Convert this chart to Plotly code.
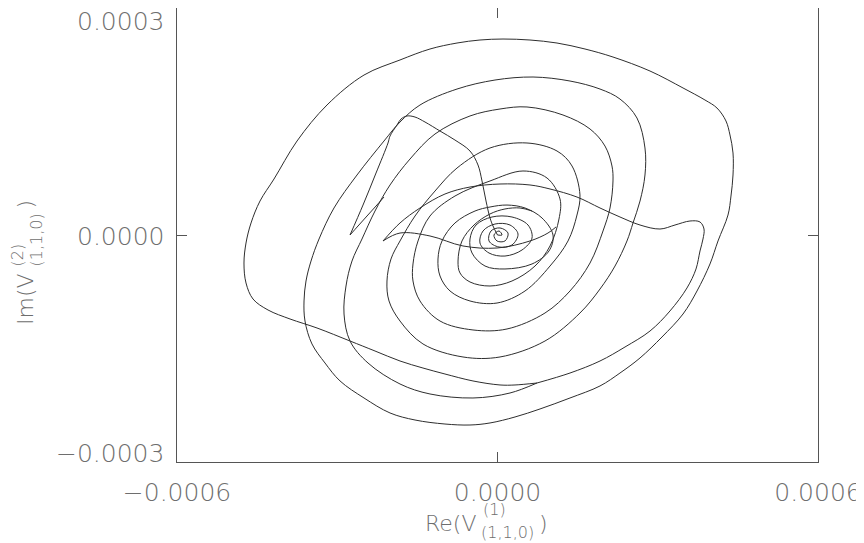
import plotly.graph_objects as go

UNIT = 1e-4  # all curve values below are in units of 1e-4

# Arm 1: wavy lower line -> outer loop -> rings 2, 4, 6 ... -> origin
arm1_x = [0.739, 0.328, 0.047, -0.459, -0.983, -1.395, -1.825, -2.293, -2.761, -3.379, -3.884, -4.296, -4.577,
          -4.708, -4.746, -4.708, -4.614, -4.446, -4.184, -3.753, -3.192, -2.499, -1.825, -1.264, -0.758, -0.328,
          0.103, 0.608, 1.114, 1.638, 2.162, 2.855, 3.473, 3.884, 4.109, 4.277, 4.352, 4.409, 4.409, 4.371, 4.315,
          4.128, 3.978, 3.735, 3.473, 3.079, 2.668, 2.293, 1.919, 1.357, 0.796, 0.328, -0.140, -0.515, -0.983,
          -1.544, -2.012, -2.499, -2.948, -3.229, -3.473, -3.604, -3.622, -3.585, -3.491, -3.341, -3.061, -2.630,
          -2.125, -1.825, -1.451, -0.758, -0.047, 0.665, 1.357, 1.919, 2.293, 2.611, 2.761, 2.761, 2.668, 2.537,
          2.424, 2.200, 1.919, 1.544, 0.889, 0.047, -0.646, -1.395, -1.825, -2.031, -2.069, -1.994, -1.825,
          -1.544, -1.170, -0.758, -0.140, 0.552, 1.114, 1.395, 1.544, 1.488, 1.320, 0.983, 0.515, -0.009, -0.515,
          -0.889, -1.076, -1.114, -1.039, -0.796, -0.421, -0.140, 0.178, 0.515, 0.833, 1.039, 0.964, 0.646, 0.140,
          -0.234, -0.477, -0.515, -0.402, -0.103, 0.271, 0.571, 0.646, 0.459, 0.140, -0.159, -0.328, -0.271,
          -0.047, 0.234, 0.384, 0.271, 0.028, -0.159, -0.122, 0.047, 0.197, 0.140, -0.009, -0.066, 0.028, 0.084,
          0.0]
arm1_y = [-1.956, -1.982, -1.982, -1.929, -1.837, -1.758, -1.665, -1.533, -1.401, -1.229, -1.110, -0.991, -0.846,
          -0.634, -0.370, -0.106, 0.159, 0.449, 0.740, 1.242, 1.718, 2.114, 2.313, 2.458, 2.537, 2.577,
          2.590, 2.577, 2.537, 2.458, 2.352, 2.167, 1.943, 1.784, 1.678, 1.507, 1.322, 1.084, 0.793, 0.515, 0.264,
          -0.079, -0.383, -0.740, -1.044, -1.348, -1.625, -1.824, -1.995, -2.154, -2.299, -2.405, -2.484, -2.511, -2.498,
          -2.445, -2.352, -2.154, -1.929, -1.692, -1.440, -1.137, -0.872, -0.608, -0.344, -0.053, 0.357, 0.793,
          1.242, 1.493, 1.718, 1.929, 2.048, 2.088, 2.035, 1.929, 1.797, 1.546, 1.150, 0.793, 0.449, 0.159,
          -0.079, -0.410, -0.714, -1.031, -1.401, -1.612, -1.612, -1.440, -1.137, -0.872, -0.608, -0.317, -0.079,
          0.251, 0.581, 0.885, 1.150, 1.216, 1.110, 0.912, 0.529, 0.264, -0.079, -0.410, -0.740, -0.899, -0.872,
          -0.740, -0.542, -0.317, -0.079, 0.159, 0.317, 0.370, 0.396, 0.357, 0.225, 0.0, -0.211, -0.383, -0.449,
          -0.410, -0.238, -0.053, 0.132, 0.238, 0.238, 0.132, -0.040, -0.198, -0.278, -0.238, -0.106, 0.053,
          0.145, 0.132, 0.013, -0.132, -0.159, -0.079, 0.053, 0.093, 0.026, -0.079, -0.079, 0.0, 0.053, 0.0,
          0.0]

# Arm 3: lower arc from the junction -> left side -> rings 3, 5 -> merges into ring 6
arm3_x = [0.739, 0.234, -0.459, -1.264, -1.825, -2.424, -2.761, -2.873, -2.836, -2.724, -2.537, -2.293, -2.012,
          -1.638, -1.170, -0.515, 0.047, 0.552, 1.226, 1.732, 2.012, 2.143, 2.162, 2.106, 1.975, 1.732, 1.357,
          0.889, 0.178, -0.459, -1.076, -1.451, -1.582, -1.582, -1.488, -1.264, -0.796, -0.140, 0.477, 0.927,
          1.170, 1.151, 0.983, 0.702, 0.271, -0.140, -0.515, -0.702, -0.739,
          -0.665, -0.440, -0.140, 0.140, 0.421, 0.646]
arm3_y = [-1.956, -2.088, -2.154, -2.101, -1.969, -1.692, -1.401, -1.044, -0.674, -0.344, -0.053, 0.317, 0.661,
          1.004, 1.335, 1.573, 1.665, 1.692, 1.586, 1.401, 1.176, 0.912, 0.714, 0.357, 0.053, -0.370, -0.740,
          -1.031, -1.242, -1.255, -1.137, -0.872, -0.608, -0.383, -0.079, 0.251, 0.515, 0.714, 0.846, 0.753,
          0.476, 0.211, -0.145, -0.410, -0.608, -0.674, -0.621, -0.502, -0.344,
          -0.079, 0.132, 0.278, 0.344, 0.357, 0.317]

# Upper lens: junction -> right bump -> upper line -> left cusp
lens_up_x = [0.739, 1.357, 1.919, 2.387, 2.855, 3.229, 3.547, 3.716, 3.791, 3.847, 3.866, 3.791, 3.603, 3.323,
             3.042, 2.668, 2.293, 1.919, 1.488, 0.983, 0.608, 0.047, -0.515, -0.983, -1.451, -1.825, -2.143]
lens_up_y = [-1.956, -1.824, -1.665, -1.480, -1.269, -1.004, -0.700, -0.449, -0.211, -0.053, 0.079, 0.172, 0.185,
             0.132, 0.079, 0.132, 0.238, 0.357, 0.502, 0.608, 0.661, 0.674, 0.634, 0.542, 0.357, 0.159, -0.079]
# Lower lens: left cusp -> lower line -> joins inner ring
lens_lo_x = [-2.143, -1.825, -1.264, -0.646, -0.009, 0.608, 0.945, 1.095]
lens_lo_y = [-0.079, 0.026, -0.013, -0.145, -0.172, -0.079, 0.026, 0.106]

# Hook: origin -> up-left hook -> down to the V tip
hook_x = [0.0, -0.084, -0.140, -0.215, -0.290, -0.365, -0.515, -0.796, -1.076, -1.357, -1.544, -1.694, -1.806,
          -1.881, -2.012, -2.050, -2.274, -2.518, -2.761]
hook_y = [0.0, 0.119, 0.225, 0.449, 0.714, 0.925, 1.110, 1.255, 1.374, 1.493, 1.559, 1.573, 1.533,
          1.454, 1.308, 1.216, 0.819, 0.396, 0.0]
# Tail: V tip -> short stroke up-right
tail_x = [-2.761, -2.611, -2.443, -2.274, -2.125]
tail_y = [0.0, 0.119, 0.251, 0.383, 0.502]

x_ticks = [-6e-4, 0.0, 6e-4]
x_ticktext = ["\u22120.0006", "0.0000", "0.0006"]
y_ticks = [-3e-4, 0.0, 3e-4]
y_ticktext = ["\u22120.0003", "0.0000", "0.0003"]

fig = go.Figure()
for sx, sy in [(arm1_x, arm1_y), (arm3_x, arm3_y), (lens_up_x, lens_up_y), (lens_lo_x, lens_lo_y),
               (hook_x, hook_y), (tail_x, tail_y)]:
    fig.add_trace(go.Scatter(x=[v * UNIT for v in sx], y=[v * UNIT for v in sy], mode="lines",
                             line=dict(color="#2e2e2e", width=1.0, shape="spline", smoothing=1.0),
                             showlegend=False, hoverinfo="skip"))

lab_color = "#6e6e6e"
tickfont = dict(family="DejaVu Sans", size=25, color=lab_color, weight=200)
axis_common = dict(showgrid=False, zeroline=False, showline=True, mirror="ticks", linecolor="#555555",
                   linewidth=1.3, ticks="inside", ticklen=10, tickwidth=1.2, tickcolor="#555555",
                   tickfont=tickfont, automargin=False, ticklabeloverflow="allow")
fig.update_layout(
    width=864, height=543, margin=dict(l=169, r=54, t=0, b=89, autoexpand=False),
    paper_bgcolor="white", plot_bgcolor="white",
    xaxis=dict(range=[-6e-4, 6e-4], tickvals=x_ticks, ticktext=x_ticktext, ticklabelstandoff=8, **axis_common),
    yaxis=dict(range=[-3e-4, 3e-4], tickvals=y_ticks, showticklabels=False, **axis_common),
)

ann = []
# y tick labels (inset at the ends as in the reference)
for txt, py in zip(y_ticktext, [452, 235, 20]):
    ann.append(dict(text=txt, x=(166 - 177) / 641, y=(461 - py) / 454, xanchor="right", yanchor="middle",
                    font=tickfont))

tf = dict(family="DejaVu Sans", size=22, color=lab_color, weight=200)
sf = dict(family="DejaVu Sans", size=16, color=lab_color, weight=200)
# x title: Re(V^(1)_(1,1,0))
ann.append(dict(text="Re(V", x=(478 - 177) / 641, y=(461 - 522) / 454, xanchor="right", yanchor="middle", font=tf))
ann.append(dict(text="(1)", x=(481 - 177) / 641, y=(461 - 509) / 454, xanchor="left", yanchor="middle", font=sf))
ann.append(dict(text="(1,1,0)", x=(479 - 177) / 641, y=(461 - 531) / 454, xanchor="left", yanchor="middle", font=sf))
ann.append(dict(text=")", x=(537 - 177) / 641, y=(461 - 522) / 454, xanchor="left", yanchor="middle", font=tf))
# y title: Im(V^(2)_(1,1,0))
ann.append(dict(text="Im(V", x=(25 - 177) / 641, y=(461 - 270) / 454, xanchor="center", yanchor="top",
                textangle=-90, font=tf))
ann.append(dict(text="(2)", x=(17 - 177) / 641, y=(461 - 268) / 454, xanchor="center", yanchor="bottom",
                textangle=-90, font=sf))
ann.append(dict(text="(1,1,0)", x=(36 - 177) / 641, y=(461 - 268) / 454, xanchor="center", yanchor="bottom",
                textangle=-90, font=sf))
ann.append(dict(text=")", x=(25 - 177) / 641, y=(461 - 210) / 454, xanchor="center", yanchor="bottom",
                textangle=-90, font=tf))
for a in ann:
    a.update(xref="paper", yref="paper", showarrow=False)
fig.update_layout(annotations=ann)

fig.write_html("out.html")
